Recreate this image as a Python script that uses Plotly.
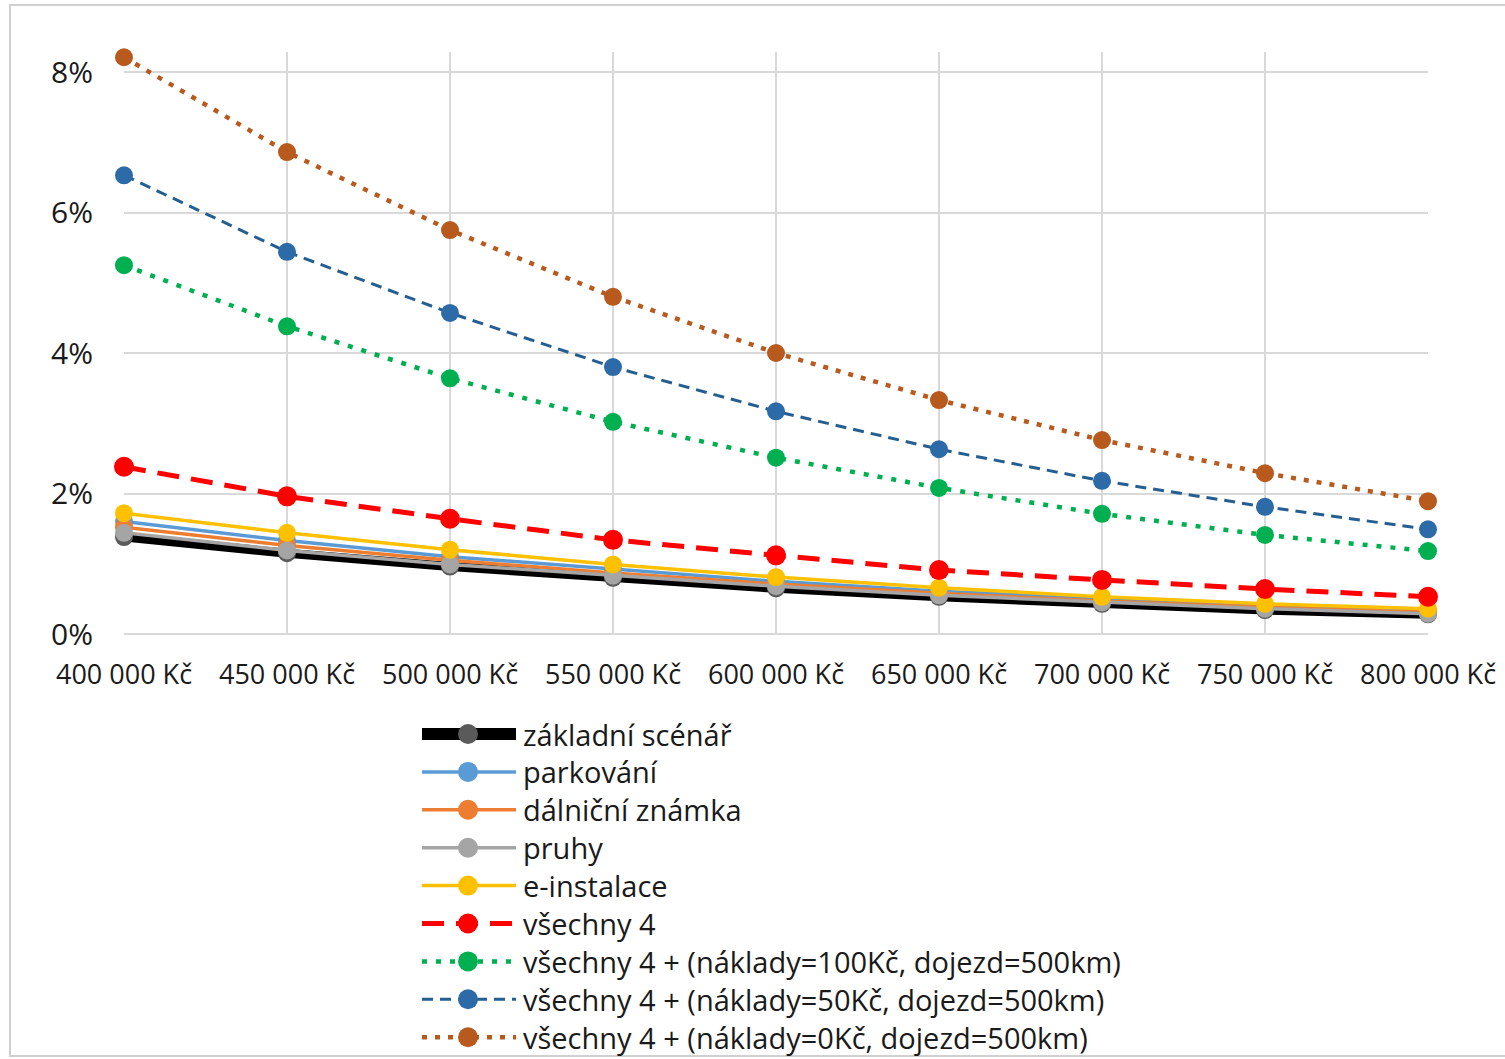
import plotly.graph_objects as go

# Purchase price of the vehicle (x axis categories)
prices = [400000, 450000, 500000, 550000, 600000, 650000, 700000, 750000, 800000]
price_labels = ["400 000 Kč", "450 000 Kč", "500 000 Kč", "550 000 Kč", "600 000 Kč",
                "650 000 Kč", "700 000 Kč", "750 000 Kč", "800 000 Kč"]

# Share of electric vehicles per scenario (fractions)
zakladni = [0.0138, 0.0115, 0.0096, 0.0080, 0.0065, 0.0053, 0.0043, 0.0034, 0.0028]
parkovani = [0.0160, 0.0133, 0.0110, 0.0092, 0.0075, 0.0061, 0.0050, 0.0040, 0.0033]
dalnicni = [0.0152, 0.0126, 0.0105, 0.0087, 0.0071, 0.0058, 0.0047, 0.0038, 0.0031]
pruhy = [0.0144, 0.0119, 0.0099, 0.0083, 0.0068, 0.0055, 0.0045, 0.0036, 0.0029]
einstalace = [0.0172, 0.0144, 0.0120, 0.0099, 0.0081, 0.0066, 0.0053, 0.0043, 0.0036]
vsechny4 = [0.0238, 0.0196, 0.0164, 0.0134, 0.0112, 0.0091, 0.0077, 0.0064, 0.0053]
vsechny4_100 = [0.0525, 0.0438, 0.0364, 0.0302, 0.0251, 0.0208, 0.0171, 0.0141, 0.0118]
vsechny4_50 = [0.0653, 0.0544, 0.0457, 0.0380, 0.0317, 0.0263, 0.0218, 0.0181, 0.0149]
vsechny4_0 = [0.0821, 0.0686, 0.0575, 0.0480, 0.0400, 0.0333, 0.0276, 0.0229, 0.0189]

y_ticks = [0, 0.02, 0.04, 0.06, 0.08]
y_tick_labels = ["0%", "2%", "4%", "6%", "8%"]

W, H = 1505, 1059
FONT = "Open Sans"
TXT = "#1a1a1a"
GRID = "#D9D9D9"

# name, values, line colour, marker colour, line width, dash, marker size
series = [
    ("základní scénář", zakladni, "#000000", "#5A5A5A", 9, "solid", 18),
    ("parkování", parkovani, "#5B9BD5", "#5B9BD5", 3.5, "solid", 18),
    ("dálniční známka", dalnicni, "#ED7D31", "#ED7D31", 3.5, "solid", 18),
    ("pruhy", pruhy, "#A5A5A5", "#A5A5A5", 3.5, "solid", 18),
    ("e-instalace", einstalace, "#FFC000", "#FFC000", 3.5, "solid", 18),
    ("všechny 4", vsechny4, "#FF0000", "#FF0000", 5, "22px,12px", 20),
    ("všechny 4 + (náklady=100Kč, dojezd=500km)", vsechny4_100, "#00B050", "#00B050", 4.5, "5px,9px", 18),
    ("všechny 4 + (náklady=50Kč, dojezd=500km)", vsechny4_50, "#255E91", "#2C6AA8", 3, "11px,7px", 18),
    ("všechny 4 + (náklady=0Kč, dojezd=500km)", vsechny4_0, "#B85A1E", "#B85A1E", 4.5, "5px,8px", 18),
]

fig = go.Figure()

for name, vals, lc, mc, lw, dash, ms in series:
    fig.add_trace(go.Scatter(
        x=prices, y=vals, mode="lines+markers", name=name,
        line=dict(color=lc, width=lw, dash=dash),
        marker=dict(color=mc, size=ms),
        cliponaxis=False, showlegend=False, xaxis="x", yaxis="y",
    ))

# Hand-drawn legend below the plot, in pixel space on an overlay axis pair
leg_x0, leg_x1, leg_xm = 422, 516, 468
leg_y0, leg_dy = 734, 37.9
annotations = []
for i, (name, vals, lc, mc, lw, dash, ms) in enumerate(series):
    yc = leg_y0 + i * leg_dy
    fig.add_trace(go.Scatter(
        x=[leg_x0, leg_x1], y=[yc, yc], mode="lines",
        line=dict(color=lc, width=(12 if i == 0 else lw), dash=dash),
        showlegend=False, hoverinfo="skip", xaxis="x2", yaxis="y2",
    ))
    fig.add_trace(go.Scatter(
        x=[leg_xm], y=[yc], mode="markers",
        marker=dict(color=mc, size=20),
        showlegend=False, hoverinfo="skip", xaxis="x2", yaxis="y2",
    ))
    annotations.append(dict(
        x=521, y=yc, xref="x2", yref="y2", text=name, showarrow=False,
        xanchor="left", yanchor="middle",
        font=dict(family=FONT, size=29, color=TXT),
    ))

plot_l, plot_r, plot_t, plot_b = 124, 1428, 52, 634
y_top = 0.08 * (plot_b - plot_t) / (plot_b - 72)

fig.update_layout(
    width=W, height=H,
    margin=dict(l=0, r=0, t=0, b=0),
    paper_bgcolor="white", plot_bgcolor="rgba(0,0,0,0)",
    showlegend=False,
    annotations=annotations,
    xaxis=dict(
        domain=[plot_l / W, plot_r / W],
        range=[prices[0], prices[-1]],
        tickvals=prices, ticktext=price_labels,
        showgrid=True, gridcolor=GRID, gridwidth=2,
        showline=False, zeroline=False, ticks="",
        ticklabelstandoff=22,
        tickfont=dict(family=FONT, size=27, color=TXT),
        automargin=False, anchor="y",
    ),
    yaxis=dict(
        domain=[(H - plot_b) / H, (H - plot_t) / H],
        range=[0, y_top],
        tickvals=y_ticks, ticktext=y_tick_labels,
        showgrid=True, gridcolor=GRID, gridwidth=2,
        showline=False, zeroline=True, zerolinecolor=GRID, zerolinewidth=2,
        ticks="", ticklabelstandoff=30,
        tickfont=dict(family=FONT, size=30, color=TXT),
        automargin=False, anchor="x",
    ),
    xaxis2=dict(domain=[0, 1], range=[0, W], visible=False, anchor="y2"),
    yaxis2=dict(domain=[0, 1], range=[H, 0], visible=False, anchor="x2"),
    shapes=[dict(type="rect", xref="x2", yref="y2", x0=10, y0=5, x1=W + 10, y1=1056,
                 line=dict(color="#D0D0D0", width=2), layer="below")],
)

fig.write_html("out.html")
